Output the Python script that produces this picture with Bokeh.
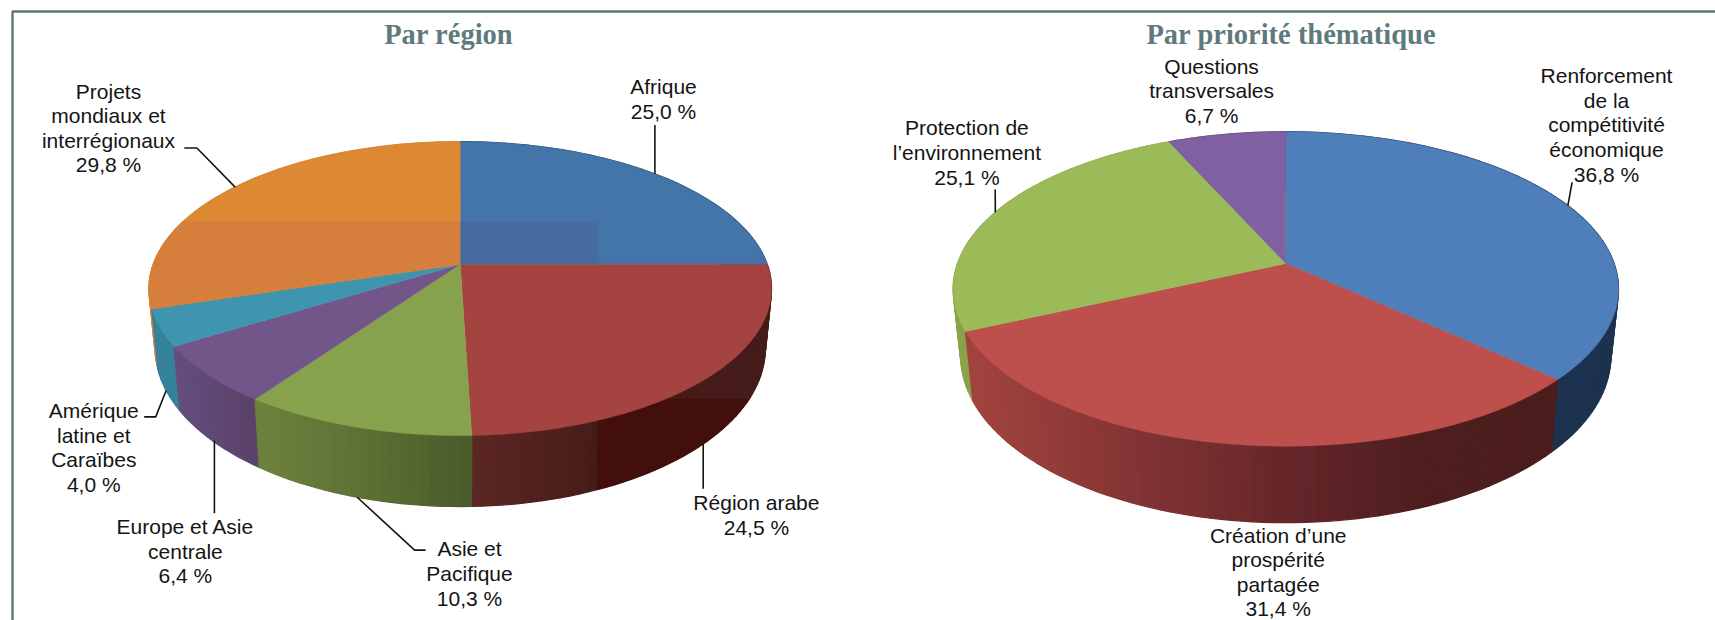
import numpy as np
from bokeh.plotting import figure
from bokeh.embed import file_html
from bokeh.resources import INLINE
from bokeh.core.properties import value

# ---- data ----
region_names = ["Afrique", "Région arabe", "Asie et\nPacifique", "Europe et Asie\ncentrale",
                "Amérique\nlatine et\nCaraïbes", "Projets\nmondiaux et\ninterrégionaux"]
region_values = [25.0, 24.5, 10.3, 6.4, 4.0, 29.8]
theme_names = ["Renforcement\nde la\ncompétitivité\néconomique", "Création d’une\nprospérité\npartagée",
               "Protection de\nl’environnement", "Questions\ntransversales"]
theme_values = [36.8, 31.4, 25.1, 6.7]
titles = ["Par région", "Par priorité thématique"]

# ---- styles ----
region_top = ["#4475a8", "#a54341", "#87a24c", "#72568a", "#3f95ae", "#dd8833"]
theme_top = ["#4f7fba", "#bd4f4c", "#9bbb59", "#7f60a0"]
region_wall = [[(0, "#2a4a6e")],
               [(471, "#5c2624"), (597, "#451c19")],
               [(258, "#6e823e"), (380, "#5c6d33"), (471, "#4a5a2a")],
               [(180, "#644e7e"), (258, "#5a4169")],
               [(150, "#35829a")],
               [(150, "#d6843a")]]
theme_wall = [[(0, "#1c324e")],
              [(968, "#a4443f"), (1285, "#66262a"), (1420, "#4e1e1e"), (1555, "#4c1d1d")],
              [(0, "#8aa34a")],
              [(0, "#5a4470")]]
INK = "#141414"
FRAME = "#5c7679"
TITLE = "#5f7a7d"

# pie geometry: projected disc and its lower rim
G1 = dict(cx=459.7, cy=263.7, a=307.0, b=142.9, k=0.166, d=321.5, gx=0.98, gy=1.077)
G2 = dict(cx=1285.3, cy=263.0, a=328.3, b=153.1, k=0.162, d=328.5, gx=0.977, gy=1.06)


def top(g, th):
    u, v = np.sin(th), np.cos(th)
    den = 1 + g["k"] * v
    return g["cx"] + g["a"] * u / den, g["cy"] - g["b"] * v / den


def low(g, th):
    x, y = top(g, th)
    return g["cx"] + g["gx"] * (x - g["cx"]), g["d"] + g["gy"] * (y - g["cy"])


def edges(vals):
    return np.radians(np.concatenate([[0], np.cumsum(vals)]) * 3.6)


def hexrgb(c):
    return np.array([int(c[i:i + 2], 16) for i in (1, 3, 5)], float)


def shade(stops, x):
    xs = [s[0] for s in stops]
    cs = np.array([hexrgb(s[1]) for s in stops])
    r = [int(round(np.interp(x, xs, cs[:, i]))) for i in range(3)]
    return "#%02x%02x%02x" % tuple(r)


def clip(px, py, x0, x1, y0, y1):
    pts = list(zip(px, py))
    for axis, lim, sign in ((0, x0, 1), (0, x1, -1), (1, y0, 1), (1, y1, -1)):
        out = []
        for i, p in enumerate(pts):
            q = pts[(i + 1) % len(pts)]
            a, b = sign * (p[axis] - lim), sign * (q[axis] - lim)
            if a >= 0:
                out.append(p)
            if a * b < 0:
                t = a / (a - b)
                out.append((p[0] + t * (q[0] - p[0]), p[1] + t * (q[1] - p[1])))
        pts = out
        if not pts:
            return [], []
    return [p[0] for p in pts], [p[1] for p in pts]


def face(g, t0, t1):
    th = np.linspace(t0, t1, max(8, int((t1 - t0) * 60)))
    x, y = top(g, th)
    return [g["cx"], *x], [g["cy"], *y]


def draw_walls(p, g, vals, stops):
    e = edges(vals)
    xs, ys, cols, order = [], [], [], []
    for i in range(len(vals)):
        n = max(3, int((e[i + 1] - e[i]) * 36))
        th = np.linspace(e[i], e[i + 1], n + 1)
        for a, b in zip(th[:-1], th[1:]):
            ax, ay = top(g, a)
            bx, by = top(g, b)
            cx2, cy2 = low(g, b)
            dx, dy = low(g, a)
            xs.append([ax, bx, cx2, dx])
            ys.append([ay, by, cy2, dy])
            cols.append(shade(stops[i], (dx + cx2) / 2))
            order.append(np.cos((a + b) / 2))
    idx = np.argsort(order)[::-1]
    p.patches([xs[j] for j in idx], [ys[j] for j in idx],
              fill_color=[cols[j] for j in idx], line_color=[cols[j] for j in idx], line_width=1.3)


def draw_faces(p, g, vals, cols):
    e = edges(vals)
    for i in range(len(vals)):
        x, y = face(g, e[i], e[i + 1])
        p.patch(x, y, fill_color=cols[i], line_color=cols[i], line_width=0.5)


def anchor(g, vals, i):
    e = edges(vals)
    mid = (e[i] + e[i + 1]) / 2
    return top(g, mid) if np.cos(mid) > 0 else low(g, mid)


p = figure(width=1715, height=620, x_range=(0, 1715), y_range=(620, 0),
           toolbar_location=None, output_backend="svg", min_border=0, outline_line_color=None)
p.axis.visible = False
p.grid.visible = False

# frame
p.line([12, 12, 1715], [620, 11, 11], line_color=FRAME, line_width=2.4)

# left pie
draw_walls(p, G1, region_values, region_wall)
# darker block on the lower right of the wall
e1 = edges(region_values)
th = np.linspace(e1[1], e1[2], 200)
tx, ty = top(G1, th)
lx, ly = low(G1, th)
wx, wy = clip([*tx, *lx[::-1]], [*ty, *ly[::-1]], 597, 800, 398.5, 620)
p.patch(wx, wy, fill_color="#420f0d", line_color="#420f0d", line_width=0.5)
draw_faces(p, G1, region_values, region_top)
# tonal blocks on the disc
fx, fy = face(G1, e1[5], e1[6])
ox, oy = clip(fx, fy, 0, 800, 221, 620)
p.patch(ox, oy, fill_color="#d67f3c", line_color="#d67f3c", line_width=0.3)
fx, fy = face(G1, e1[0], e1[1])
bx, by = clip(fx, fy, 460, 597, 221, 263.7)
p.patch(bx, by, fill_color="#466b9f", line_color=None)
bx, by = clip(fx, fy, 597, 800, 257, 263.7)
p.patch(bx, by, fill_color="#466fa3", line_color=None)

# right pie
draw_walls(p, G2, theme_values, theme_wall)
draw_faces(p, G2, theme_values, theme_top)

# leader lines: from the label to the middle of the slice
leaders_1 = [([(654.4, 124.6)], 0), ([(702.7, 488.3)], 1),
             ([(425.1, 549.6), (414.1, 549.6)], 2), ([(213.9, 512.8)], 3),
             ([(143.7, 416.4), (155.2, 416.4)], 4), ([(183.8, 147.5), (196.4, 147.5)], 5)]
leaders_2 = [([(1571.6, 181.9)], 0), ([(994.7, 189.0)], 2)]
for g, vals, leaders in ((G1, region_values, leaders_1), (G2, theme_values, leaders_2)):
    for pts, i in leaders:
        ax, ay = anchor(g, vals, i)
        if len(pts) == 1 and g is G1:
            ax = pts[0][0]
        p.line([q[0] for q in pts] + [ax], [q[1] for q in pts] + [ay], line_color=INK, line_width=1.6)

# labels
label_pos_1 = [(663.0, 98.8), (755.9, 514.4), (469.0, 573.0), (184.9, 550.8), (93.3, 446.9), (108.0, 127.5)]
label_pos_2 = [(1606.0, 124.3), (1277.7, 571.5), (966.4, 152.0), (1211.1, 90.2)]


def fmt(v):
    return f"{v:.1f}".replace(".", ",") + " %"


for names, vals, pos in ((region_names, region_values, label_pos_1), (theme_names, theme_values, label_pos_2)):
    p.text([q[0] for q in pos], [q[1] for q in pos],
           text=[f"{n}\n{fmt(v)}" for n, v in zip(names, vals)],
           text_font=value("Liberation Sans"), text_font_size="21px", text_color=INK,
           text_align="center", text_baseline="middle", text_line_height=1.07)

p.text([448.2, 1290.8], [33.6, 33.6], text=titles, text_font=value("Liberation Serif"),
       text_font_style="bold", text_font_size="28.5px", text_color=TITLE,
       text_align="center", text_baseline="middle")

open("out.html", "w").write(file_html(p, INLINE))
